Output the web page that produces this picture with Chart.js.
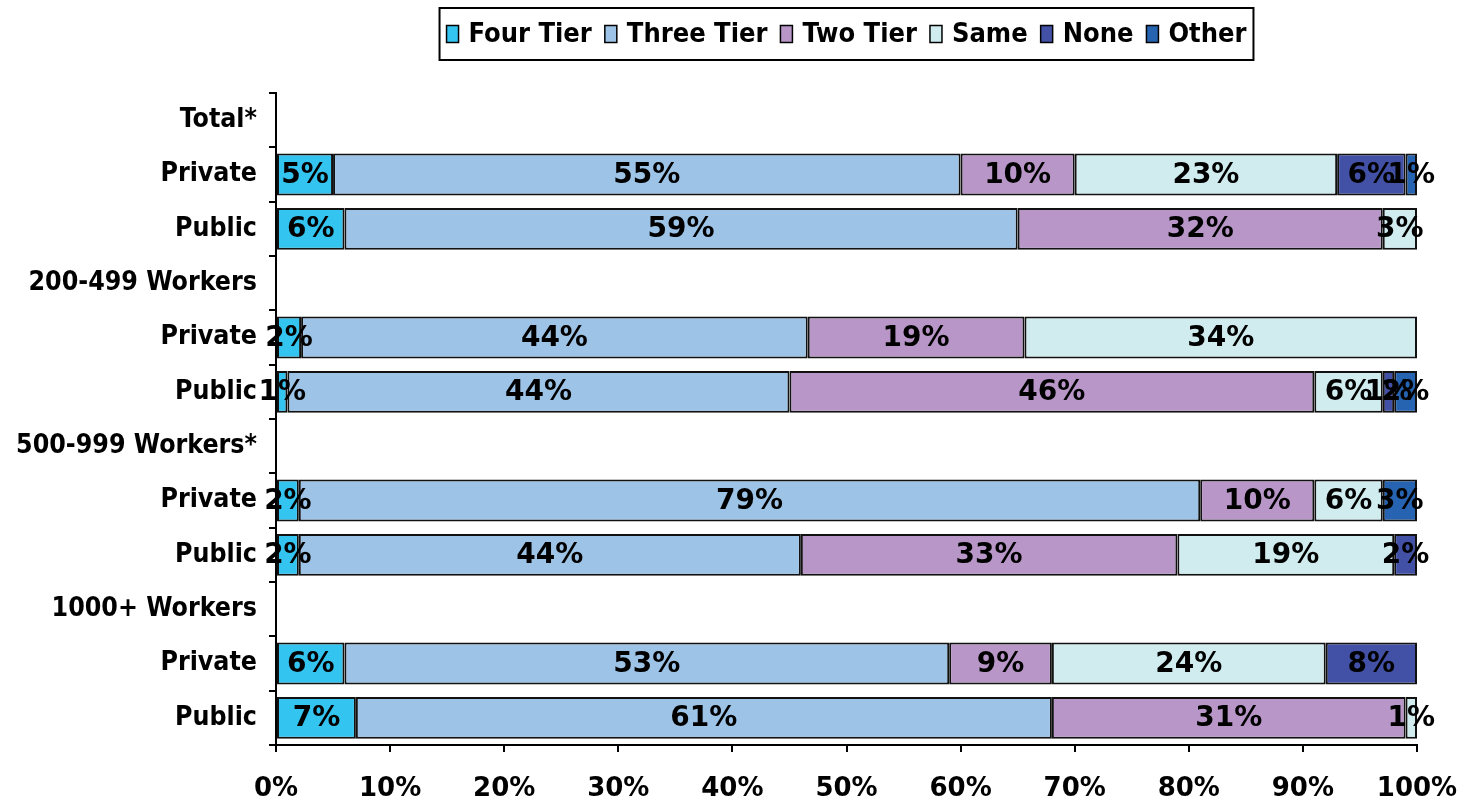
<!DOCTYPE html>
<html>
<head>
<meta charset="utf-8">
<script src="https://cdn.jsdelivr.net/npm/chart.js@4/dist/chart.umd.min.js"></script>
<style>
  html, body { margin: 0; background: #fff; }
  #wrap { width: 1469px; height: 801px; }
</style>
</head>
<body>
<div id="wrap"><canvas id="chartTiers"></canvas></div>
<script>
const categories = ['Total*', 'Private', 'Public', '200-499 Workers', 'Private', 'Public',
                    '500-999 Workers*', 'Private', 'Public', '1000+ Workers', 'Private', 'Public'];
const seriesNames = ['Four Tier', 'Three Tier', 'Two Tier', 'Same', 'None', 'Other'];
const fourTier  = [null, 5, 6, null, 2.2, 1, null, 2, 2, null, 6, 7];
const threeTier = [null, 55, 59, null, 44.4, 44, null, 79, 44, null, 53, 61];
const twoTier   = [null, 10, 32, null, 19, 46, null, 10, 33, null, 9, 31];
const same      = [null, 23, 3, null, 34.4, 6, null, 6, 19, null, 24, 1];
const none      = [null, 6, null, null, null, 1, null, null, 2, null, 8, null];
const other     = [null, 1, null, null, null, 2, null, 3, null, null, null, null];
const xTicks = [0, 10, 20, 30, 40, 50, 60, 70, 80, 90, 100];

const colors = ['#33C4F0', '#9DC3E6', '#B897C8', '#D0ECEF', '#4251A5', '#2663B0'];
const allSeries = [fourTier, threeTier, twoTier, same, none, other];

const condensed = "'DejaVu Sans Condensed', 'DejaVu Sans', sans-serif";
const wide = "'DejaVu Sans', sans-serif";

// % values in the middle of each segment
const barLabels = {
    id: 'barLabels',
    afterDatasetsDraw(chart) {
        const ctx = chart.ctx;
        ctx.save();
        ctx.font = "bold 28px " + wide;
        ctx.fillStyle = '#000';
        ctx.textAlign = 'center';
        ctx.textBaseline = 'middle';
        chart.data.datasets.forEach((ds, i) => {
            chart.getDatasetMeta(i).data.forEach((bar, j) => {
                const v = ds.data[j];
                if (v == null) return;
                ctx.fillText(Math.round(v) + '%', (bar.x + bar.base) / 2, bar.y + 1);
            });
        });
        ctx.restore();
    }
};

// legend in a box, centred over the plot area
const boxedLegend = {
    id: 'boxedLegend',
    afterDraw(chart) {
        const ctx = chart.ctx;
        const area = chart.chartArea;
        const sw = 12, sh = 17, gap = 10, pad = 13, margin = 7;
        const cy = 34;
        ctx.save();
        ctx.font = "bold 27px " + condensed;
        const items = chart.data.datasets.map(ds => ({
            text: ds.label, color: ds.backgroundColor, w: ctx.measureText(ds.label).width
        }));
        let total = items.reduce((s, it) => s + sw + gap + it.w, 0) + pad * (items.length - 1);
        let x = (area.left + area.right) / 2 - total / 2;
        ctx.strokeStyle = '#000';
        ctx.lineWidth = 2;
        ctx.strokeRect(x - margin, 8, total + margin * 2, 52);
        ctx.textBaseline = 'middle';
        ctx.textAlign = 'left';
        items.forEach(it => {
            ctx.fillStyle = it.color;
            ctx.fillRect(x, cy - sh / 2, sw, sh);
            ctx.lineWidth = 1.5;
            ctx.strokeRect(x, cy - sh / 2, sw, sh);
            ctx.fillStyle = '#000';
            ctx.fillText(it.text, x + sw + gap, cy + 1);
            x += sw + gap + it.w + pad;
        });
        ctx.restore();
    }
};

new Chart(document.getElementById('chartTiers'), {
    type: 'bar',
    data: {
        labels: categories,
        datasets: allSeries.map((d, i) => ({
            label: seriesNames[i],
            data: d,
            backgroundColor: colors[i],
            borderColor: '#111',
            borderWidth: 2,
            borderSkipped: false,
            barPercentage: 0.77,
            categoryPercentage: 1
        }))
    },
    options: {
        indexAxis: 'y',
        responsive: true,
        maintainAspectRatio: false,
        animation: false,
        layout: { padding: { left: 10, right: 52, top: 93, bottom: 0 } },
        plugins: {
            legend: { display: false },
            tooltip: { enabled: false }
        },
        scales: {
            x: {
                stacked: true,
                min: 0,
                max: 100,
                afterBuildTicks(scale) { scale.ticks = xTicks.map(v => ({ value: v })); },
                afterFit(scale) {
                    scale.height = 56;
                    scale.paddingLeft = 0;
                    scale.paddingRight = 0;
                },
                ticks: {
                    color: '#000',
                    font: { family: wide, size: 26, weight: 'bold' },
                    padding: 22,
                    maxRotation: 0,
                    autoSkip: false,
                    callback: v => v + '%'
                },
                grid: { drawOnChartArea: false, drawTicks: true, tickLength: 7, color: '#000', lineWidth: 2 },
                border: { color: '#000', width: 2 }
            },
            y: {
                stacked: true,
                afterFit(scale) { scale.width = 266; },
                ticks: {
                    color: '#000',
                    font: { family: condensed, size: 26.5, weight: 'bold' },
                    padding: 12,
                    autoSkip: false
                },
                grid: { offset: true, drawOnChartArea: false, drawTicks: true, tickLength: 7, color: '#000', lineWidth: 2 },
                border: { color: '#000', width: 2 }
            }
        }
    },
    plugins: [barLabels, boxedLegend]
});
</script>
</body>
</html>
